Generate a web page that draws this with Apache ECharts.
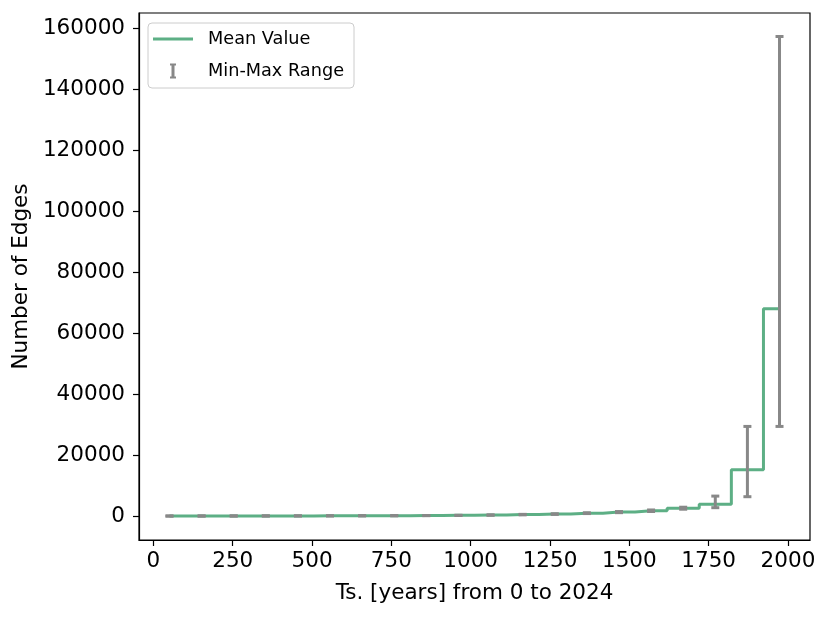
<!DOCTYPE html>
<html>
<head>
<meta charset="utf-8">
<script src="https://cdn.jsdelivr.net/npm/echarts@6/dist/echarts.min.js"></script>
<style>
  html, body { margin: 0; padding: 0; background: #fff; }
  #chart { width: 831px; height: 617px; }
</style>
</head>
<body>
<div id="chart"></div>
<script>
  // bin centres (years) and per-bin statistics
  var binCenters = [50.6, 151.8, 253.0, 354.2, 455.4, 556.6, 657.8, 759.0, 860.2, 961.4,
    1062.6, 1163.8, 1265.0, 1366.2, 1467.4, 1568.6, 1669.8, 1771.0, 1872.2, 1973.4];
  var meanValues = [15, 25, 35, 45, 60, 75, 95, 120, 160, 230,
    330, 480, 650, 950, 1300, 1750, 2550, 3850, 15200, 68000];
  var minValues = [10, 20, 28, 36, 48, 62, 80, 100, 130, 190,
    280, 400, 560, 820, 1120, 1500, 2250, 2750, 6350, 29400];
  var maxValues = [20, 30, 42, 55, 72, 90, 112, 142, 190, 270,
    380, 560, 750, 1080, 1480, 2000, 2900, 6550, 29400, 157300];
  var xTicks = [0, 250, 500, 750, 1000, 1250, 1500, 1750, 2000];
  var yTicks = [0, 20000, 40000, 60000, 80000, 100000, 120000, 140000, 160000];

  var lineColor = "#5daf85";
  var barColor = "#888888";
  var font = "DejaVu Sans";

  var meanData = [];
  var rangeData = [];
  for (var i = 0; i < binCenters.length; i++) {
    meanData.push([binCenters[i], meanValues[i]]);
    rangeData.push([binCenters[i], minValues[i], maxValues[i]]);
  }

  function renderErrorBar(params, api) {
    var x = api.value(0);
    var lo = api.coord([x, api.value(1)]);
    var hi = api.coord([x, api.value(2)]);
    var half = 4;
    var style = { stroke: barColor, lineWidth: 3 };
    return {
      type: "group",
      children: [
        { type: "line", shape: { x1: lo[0], y1: lo[1], x2: hi[0], y2: hi[1] }, style: style },
        { type: "line", shape: { x1: lo[0] - half, y1: lo[1], x2: lo[0] + half, y2: lo[1] }, style: style },
        { type: "line", shape: { x1: hi[0] - half, y1: hi[1], x2: hi[0] + half, y2: hi[1] }, style: style }
      ]
    };
  }

  var myChart = echarts.init(document.getElementById("chart"));
  myChart.setOption({
    animation: false,
    textStyle: { fontFamily: font },
    grid: {
      left: 139, top: 13, width: 671, height: 527,
      show: true, borderColor: "#000", borderWidth: 1.2, backgroundColor: "transparent"
    },
    legend: {
      orient: "vertical",
      left: 148,
      top: 23,
      padding: [7, 10, 8, 5],
      itemWidth: 40,
      itemHeight: 15,
      itemGap: 14,
      borderColor: "#cccccc",
      borderWidth: 1,
      borderRadius: 4,
      backgroundColor: "#fff",
      textStyle: { fontFamily: font, fontSize: 17.7, color: "#000", padding: [0, 0, 0, 10] },
      data: [
        { name: "Mean Value", icon: "path://M0,0h40v3h-40z", itemStyle: { color: lineColor } },
        { name: "Min-Max Range", icon: "path://M0,0h6v2h-1.5v11h1.5v2h-6v-2h1.5v-11h-1.5z", itemStyle: { color: barColor } }
      ]
    },
    xAxis: {
      type: "value",
      min: -45.5,
      max: 2069.5,
      name: "Ts. [years] from 0 to 2024",
      nameLocation: "middle",
      nameGap: 42,
      nameTextStyle: { fontFamily: font, fontSize: 21.5, color: "#000" },
      axisLine: { show: true, onZero: false, lineStyle: { color: "#000", width: 1.2 } },
      axisTick: { show: true, length: 6, lineStyle: { color: "#000", width: 1.2 }, customValues: xTicks },
      axisLabel: { fontFamily: font, fontSize: 21.5, color: "#000", margin: 10, customValues: xTicks,
        formatter: function(v) { return String(v); } },
      splitLine: { show: false }
    },
    yAxis: {
      type: "value",
      min: -7850,
      max: 165000,
      name: "Number of Edges",
      nameLocation: "middle",
      nameGap: 103,
      nameTextStyle: { fontFamily: font, fontSize: 21.5, color: "#000" },
      axisLine: { show: true, onZero: false, lineStyle: { color: "#000", width: 1.2 } },
      axisTick: { show: true, length: 6, lineStyle: { color: "#000", width: 1.2 }, customValues: yTicks },
      axisLabel: { fontFamily: font, fontSize: 21.5, color: "#000", margin: 14, customValues: yTicks,
        formatter: function(v) { return String(v); } },
      splitLine: { show: false }
    },
    series: [
      {
        name: "Mean Value",
        type: "line",
        step: "middle",
        data: meanData,
        symbol: "none",
        color: lineColor,
        lineStyle: { color: lineColor, width: 3 },
        z: 2
      },
      {
        name: "Min-Max Range",
        type: "custom",
        data: rangeData,
        renderItem: renderErrorBar,
        color: barColor,
        z: 3
      }
    ]
  });
</script>
</body>
</html>
